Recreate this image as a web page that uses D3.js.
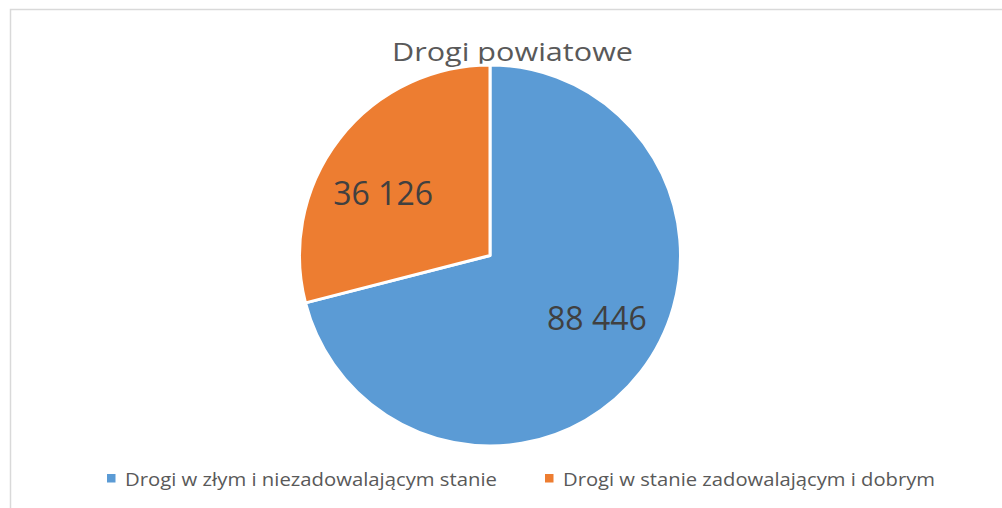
<!DOCTYPE html>
<html>
<head>
<meta charset="utf-8">
<script src="https://cdn.jsdelivr.net/npm/d3@7"></script>
<style>
  html, body { margin: 0; padding: 0; background: #fff; }
  svg { display: block; }
</style>
</head>
<body>
<svg id="chart" width="1002" height="508"></svg>
<script>
// Road condition data for county roads
const categories = ["Drogi w złym i niezadowalającym stanie", "Drogi w stanie zadowalającym i dobrym"];
const values = [88446, 36126];
const colors = ["#5B9BD5", "#ED7D31"];
const title = "Drogi powiatowe";

const svg = d3.select("#chart");
const W = 1002, H = 508;
const font = "'Open Sans', 'Noto Sans', sans-serif";

// chart area frame (right and bottom edges run off the canvas)
svg.append("rect")
  .attr("x", 10.5).attr("y", 9.5)
  .attr("width", W + 10).attr("height", H + 10)
  .attr("fill", "#fff")
  .attr("stroke", "#d9d9d9").attr("stroke-width", 1.5);

svg.append("text")
  .attr("x", 392).attr("y", 61)
  .attr("font-family", font)
  .attr("font-size", 26)
  .attr("textLength", 241)
  .attr("lengthAdjust", "spacingAndGlyphs")
  .attr("fill", "#595959")
  .text(title);

const cx = 490, cy = 255.5, r = 190.5;
const data = categories.map((c, i) => ({ name: c, value: values[i], color: colors[i] }));

const pie = d3.pie().value(d => d.value).sort(null);
const arc = d3.arc().innerRadius(0).outerRadius(r);

const g = svg.append("g").attr("transform", `translate(${cx},${cy})`);
const arcs = pie(data);

g.selectAll("path.slice")
  .data(arcs)
  .join("path")
  .attr("class", "slice")
  .attr("d", arc)
  .attr("fill", d => d.data.color)
  .attr("stroke", "#fff")
  .attr("stroke-width", 3)
  .attr("stroke-linejoin", "round");

// value labels: placed inside each slice, slightly ahead of its mid-angle
const labelR = r * 0.65, labelTurn = -7.5 * Math.PI / 180;
const labelPos = d => {
  const a = (d.startAngle + d.endAngle) / 2 + labelTurn;
  return [labelR * Math.sin(a), -labelR * Math.cos(a)];
};
const fmt = v => d3.format(",")(v).replace(/,/g, " ");
g.selectAll("text.val")
  .data(arcs)
  .join("text")
  .attr("class", "val")
  .attr("transform", d => `translate(${labelPos(d)})`)
  .attr("text-anchor", "middle")
  .attr("dy", "0.36em")
  .attr("font-family", font)
  .attr("font-size", 32)
  .attr("fill", "#404040")
  .text(d => fmt(d.data.value));

// legend
const legendX = [107, 545];
const legendW = [372, 372];
const lg = svg.append("g");
data.forEach((d, i) => {
  lg.append("rect")
    .attr("x", legendX[i]).attr("y", 474)
    .attr("width", 8.5).attr("height", 8.5)
    .attr("fill", d.color);
  lg.append("text")
    .attr("x", legendX[i] + 18).attr("y", 486)
    .attr("font-family", font)
    .attr("font-size", 19)
    .attr("textLength", legendW[i])
    .attr("lengthAdjust", "spacingAndGlyphs")
    .attr("fill", "#595959")
    .text(d.name);
});
</script>
</body>
</html>
